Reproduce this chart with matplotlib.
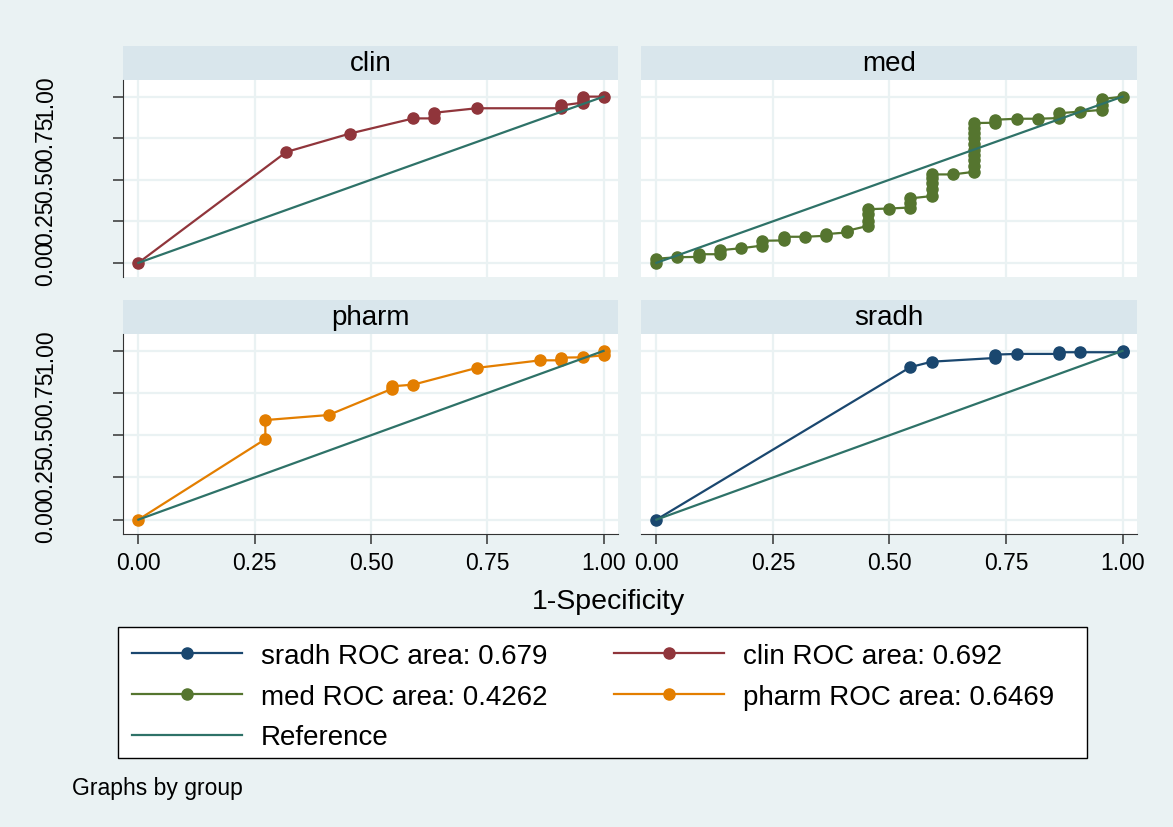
import matplotlib.pyplot as plt
from matplotlib.patches import Rectangle

plt.rcParams['font.family'] = ['Liberation Sans', 'DejaVu Sans']

# ROC points (1-specificity, sensitivity)
clin_fpr = [0.0, 0.318, 0.455, 0.591, 0.636, 0.636, 0.727, 0.909, 0.909, 0.955, 0.955, 0.955, 1.0]
clin_tpr = [0.0, 0.667, 0.778, 0.869, 0.869, 0.903, 0.930, 0.930, 0.947, 0.964, 0.982, 1.0, 1.0]

med_fpr = [0.0, 0.0, 0.045, 0.091, 0.091, 0.136, 0.136, 0.182, 0.227, 0.227,
           0.273, 0.273, 0.318, 0.364, 0.364, 0.409, 0.409,
           0.455, 0.455, 0.455, 0.455, 0.500, 0.545, 0.545, 0.545,
           0.591, 0.591, 0.591, 0.591, 0.591, 0.636,
           0.682, 0.682, 0.682, 0.682, 0.682, 0.682, 0.682, 0.682, 0.682, 0.682,
           0.727, 0.727, 0.773, 0.818, 0.864, 0.864, 0.909,
           0.955, 0.955, 0.955, 1.0]
med_tpr = [0.0, 0.025, 0.034, 0.036, 0.052, 0.052, 0.076, 0.088, 0.104, 0.133,
           0.135, 0.157, 0.157, 0.163, 0.173, 0.183, 0.193,
           0.223, 0.253, 0.293, 0.323, 0.327, 0.333, 0.363, 0.388,
           0.402, 0.442, 0.482, 0.512, 0.532, 0.532,
           0.548, 0.582, 0.616, 0.647, 0.681, 0.715, 0.751, 0.781, 0.811, 0.841,
           0.843, 0.861, 0.867, 0.867, 0.871, 0.900, 0.910,
           0.920, 0.950, 0.985, 1.0]

pharm_fpr = [0.0, 0.273, 0.273, 0.409, 0.545, 0.545, 0.591, 0.727, 0.864, 0.909, 0.909, 0.955, 1.0, 1.0]
pharm_tpr = [0.0, 0.477, 0.590, 0.620, 0.775, 0.790, 0.800, 0.899, 0.944, 0.944, 0.960, 0.962, 0.974, 1.0]

sradh_fpr = [0.0, 0.545, 0.591, 0.727, 0.727, 0.773, 0.864, 0.864, 0.909, 1.0, 1.0]
sradh_tpr = [0.0, 0.904, 0.936, 0.958, 0.978, 0.982, 0.982, 0.992, 0.992, 0.992, 1.0]

ref_x = [0.0, 1.0]
ref_y = [0.0, 1.0]

groups = ['clin', 'med', 'pharm', 'sradh']
roc_area = {'sradh': '0.679', 'clin': '0.692', 'med': '0.4262', 'pharm': '0.6469'}
ticks = [0.0, 0.25, 0.5, 0.75, 1.0]
tick_labels = ['0.00', '0.25', '0.50', '0.75', '1.00']

data = {'clin': (clin_fpr, clin_tpr), 'med': (med_fpr, med_tpr),
        'pharm': (pharm_fpr, pharm_tpr), 'sradh': (sradh_fpr, sradh_tpr)}
colors = {'sradh': '#1a476f', 'clin': '#90353b', 'med': '#55752f', 'pharm': '#e37e00'}
ref_color = '#2e7268'
bg = '#eaf2f3'
strip_color = '#d9e6ec'

W, H = 1173, 828


def box(x0, y0, x1, y1):
    # pixel box (top-left origin) -> figure fraction
    return [x0 / W, 1 - y1 / H, (x1 - x0) / W, (y1 - y0) / H]


fig = plt.figure(figsize=(W / 100, H / 100), dpi=100, facecolor=bg)

layout = {
    'clin': ((123, 81, 618, 278), (123, 47, 618, 81)),
    'med': ((641, 81, 1137, 278), (641, 47, 1137, 81)),
    'pharm': ((123, 335, 618, 535), (123, 301, 618, 335)),
    'sradh': ((641, 335, 1137, 535), (641, 301, 1137, 335)),
}

handles = {}
for i, g in enumerate(groups):
    pbox, sbox = layout[g]
    left_col = i % 2 == 0
    bottom_row = i >= 2

    # title strip
    sax = fig.add_axes(box(*sbox))
    sax.set_facecolor(strip_color)
    sax.set_xticks([])
    sax.set_yticks([])
    for s in sax.spines.values():
        s.set_visible(False)
    sax.text(0.5, 0.5, g, ha='center', va='center', fontsize=20, transform=sax.transAxes)

    ax = fig.add_axes(box(*pbox))
    ax.set_facecolor('white')
    x, y = data[g]
    line, = ax.plot(x, y, color=colors[g], lw=1.6, marker='o', ms=8, zorder=3)
    ref, = ax.plot(ref_x, ref_y, color=ref_color, lw=1.6, zorder=4)
    handles[g] = line
    handles['Reference'] = ref

    ax.set_xlim(-0.033, 1.031)
    ax.set_ylim(-0.085, 1.10)
    ax.set_xticks(ticks)
    ax.set_yticks(ticks)
    ax.grid(True, color=bg, lw=1.6, zorder=0)
    ax.set_axisbelow(True)
    for s in ['top', 'right']:
        ax.spines[s].set_visible(False)
    ax.spines['left'].set_visible(left_col)
    ax.spines['bottom'].set_visible(bottom_row)
    ax.spines['left'].set_color('#333333')
    ax.spines['bottom'].set_color('#333333')

    if left_col:
        ax.set_yticklabels(tick_labels)
        ax.tick_params(axis='y', direction='out', length=7.2, width=1.1, color='#333333',
                       labelsize=16.5, labelrotation=90, pad=40)
        for lab in ax.get_yticklabels():
            lab.set_va('center')
    else:
        ax.tick_params(axis='y', length=0, labelleft=False)

    if bottom_row:
        ax.set_xticklabels(tick_labels)
        ax.tick_params(axis='x', direction='out', length=7.2, width=1.1, color='#333333',
                       labelsize=16.5, pad=5)
    else:
        ax.tick_params(axis='x', length=0, labelbottom=False)

fig.text(608 / W, 1 - 602 / H, '1-Specificity', ha='center', va='center', fontsize=20.5)

# legend box
fig.patches.append(Rectangle((118 / W, 1 - 759 / H), 969 / W, 131 / H, transform=fig.transFigure,
                             facecolor='white', edgecolor='black', lw=1.0, zorder=0))
order = ['sradh', 'med', 'Reference', 'clin', 'pharm']
labels = [f'{g} ROC area: {roc_area[g]}' if g in roc_area else g for g in order]
fig.legend([handles[g] for g in order], labels, loc='upper left',
           bbox_to_anchor=(132 / W, 1 - 644 / H), ncol=2, frameon=False, fontsize=20,
           handlelength=3.96, handletextpad=0.68, columnspacing=2.41, labelspacing=0.53,
           borderpad=0, borderaxespad=0, numpoints=1, markerscale=1.0)

fig.text(72 / W, 1 - 789 / H, 'Graphs by group', ha='left', va='center', fontsize=16.5)

fig.savefig('out.png', dpi=100, facecolor=bg)
